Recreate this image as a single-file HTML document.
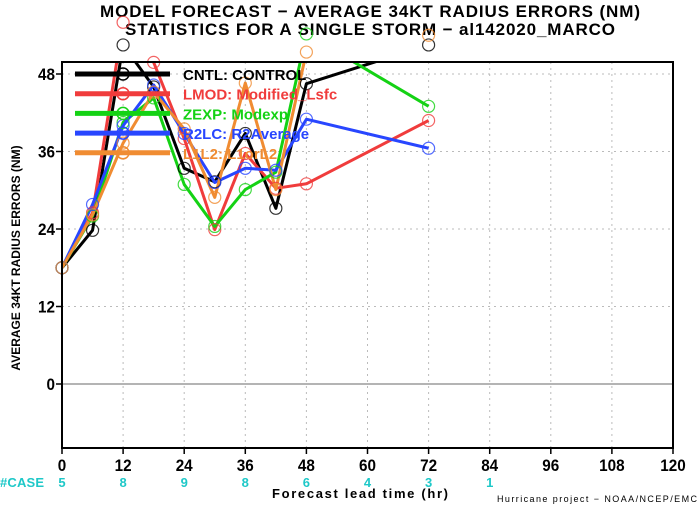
<!DOCTYPE html>
<html><head><meta charset="utf-8"><style>
body{margin:0;background:#fff;}
svg{display:block;font-family:"Liberation Sans",sans-serif;}
</style></head><body>
<svg id="chart" width="700" height="506" viewBox="0 0 700 506">
<defs><clipPath id="pc"><rect x="62" y="62" width="611" height="386"/></clipPath></defs>
<text x="370" y="17" text-anchor="middle" font-size="17" font-weight="bold" fill="#000" textLength="540">MODEL FORECAST − AVERAGE 34KT RADIUS ERRORS (NM)</text>
<text x="370" y="35" text-anchor="middle" font-size="17" font-weight="bold" fill="#000" textLength="490">STATISTICS FOR A SINGLE STORM − al142020_MARCO</text>
<g id="grid"></g>
<line x1="62" x2="673" y1="384" y2="384" stroke="#888" stroke-width="1.2"/>
<g id="series" clip-path="url(#pc)"></g>
<g id="markers"></g>
<rect x="62" y="62" width="611" height="386" fill="none" stroke="#000" stroke-width="2"/>
<g id="axes"></g>
<g id="legend"></g>
<text transform="translate(20,258) rotate(-90)" text-anchor="middle" font-size="12" font-weight="bold">AVERAGE 34KT RADIUS ERRORS (NM)</text>
<text x="360" y="498" text-anchor="middle" font-size="13" font-weight="bold" textLength="176">Forecast lead time (hr)</text>
<text x="697" y="502" text-anchor="end" font-size="9" textLength="200">Hurricane project − NOAA/NCEP/EMC</text>
<text x="0" y="487" font-size="13" font-weight="bold" fill="#1ec8c8" textLength="44">#CASE</text>
</svg>
<script>
const hours = [0, 6, 12, 18, 24, 30, 36, 42, 48, 72];
const cntl = [18, 23.8, 52.5, 46, 33.4, 31.3, 38.8, 27.2, 46.5, 52.5];
const lmod = [18, 26.5, 56, 49.8, 38, 23.9, 35.7, 30.3, 31, 40.8];
const zexp = [18, 26, 40.5, 44.3, 30.9, 24.4, 30.1, 32.8, 54.2, 43];
const r2lc = [18, 27.8, 40, 46.3, 38.8, 31.2, 33.4, 33.1, 41, 36.5];
const l1l2 = [18, 26.2, 37.3, 45.2, 39.5, 28.9, 46.6, 30.1, 51.4, 54];
const xTicks = [0, 12, 24, 36, 48, 60, 72, 84, 96, 108, 120];
const yTicks = [0, 12, 24, 36, 48];
const caseHours = [0, 12, 24, 36, 48, 60, 72, 84];
const caseCounts = [5, 8, 9, 8, 6, 4, 3, 1];
const seriesNames = ["CNTL: CONTROL", "LMOD: Modified_Lsfc", "ZEXP: Modexp", "R2LC: R2Average", "L1L2: L1orL2"];
const seriesKeys = ["cntl", "lmod", "zexp", "r2lc", "l1l2"];
const colors = ["#000000", "#f03c3c", "#14d214", "#2846ff", "#f08c32"];
const xs = h => 62 + h * (611 / 120);
const ys = v => 384 - v * (310 / 48);
const NS = "http://www.w3.org/2000/svg";
function mk(tag, attrs, parent) { const e = document.createElementNS(NS, tag); for (const k in attrs) e.setAttribute(k, attrs[k]); parent.appendChild(e); return e; }
const grid = document.getElementById("grid"), axes = document.getElementById("axes");
xTicks.forEach(t => {
  if (t > 0 && t < 120) { const l = mk("line", {x1: xs(t), x2: xs(t), y1: 62, y2: 448, stroke: "#bbb", "stroke-dasharray": "2,4"}, grid);   }
  const tk = mk("line", {x1: xs(t), x2: xs(t), y1: 448, y2: 454, stroke: "#000", "stroke-width": "1.5"}, axes);
  
  
  const s = String(t);
  const tx = mk("text", {x: xs(t), y: 471, "text-anchor": "middle", "font-size": "17", "font-weight": "bold", textLength: s.length * 8.5, lengthAdjust: "spacingAndGlyphs"}, axes);
  
  
  tx.textContent = s;
});
yTicks.forEach(t => {
  if (t > 0) { const l = mk("line", {x1: 62, x2: 673, y1: ys(t), y2: ys(t), stroke: "#bbb", "stroke-dasharray": "2,4"}, grid);   }
  const tk = mk("line", {x1: 56, x2: 62, y1: ys(t), y2: ys(t), stroke: "#000", "stroke-width": "1.5"}, axes);
  
  
  const s = String(t);
  const tx = mk("text", {x: 55, y: ys(t) + 6, "text-anchor": "end", "font-size": "17", "font-weight": "bold", textLength: s.length * 8.5, lengthAdjust: "spacingAndGlyphs"}, axes);
  
  
  tx.textContent = s;
});
caseHours.forEach((h, i) => {
  const tx = mk("text", {x: xs(h), y: 487, "text-anchor": "middle", "font-size": "13", "font-weight": "bold", fill: "#1ec8c8"}, axes);
  
  
  tx.textContent = caseCounts[i];
});
const dataSets = [cntl, lmod, zexp, r2lc, l1l2];
const sg = document.getElementById("series"), mg = document.getElementById("markers"), lg = document.getElementById("legend");
dataSets.forEach((vals, si) => {
  const pts = vals.map((v, i) => xs(hours[i]) + "," + ys(v)).join(" ");
  const pl = mk("polyline", {points: pts, fill: "none", stroke: colors[si], "stroke-width": "3", "stroke-linejoin": "round"}, sg);
  
  
  vals.forEach((v, i) => {
    const c = mk("circle", {cx: xs(hours[i]), cy: ys(v), r: 6, fill: "none", stroke: colors[si], "stroke-width": "1.2", opacity: "0.8"}, mg);
    
    
  });
  const ly = 74 + si * 19.7;
  const ll = mk("line", {x1: 75, x2: 170, y1: ly, y2: ly, stroke: colors[si], "stroke-width": "5"}, lg);
  
  
  const lc = mk("circle", {cx: 123, cy: ly, r: 6, fill: "none", stroke: colors[si], "stroke-width": "1.5"}, lg);
  
  
  const lt = mk("text", {x: 183, y: ly + 6, "font-size": "15", "font-weight": "bold", fill: colors[si]}, lg);
  
  
  lt.textContent = seriesNames[si];
});
</script>
</body></html>
